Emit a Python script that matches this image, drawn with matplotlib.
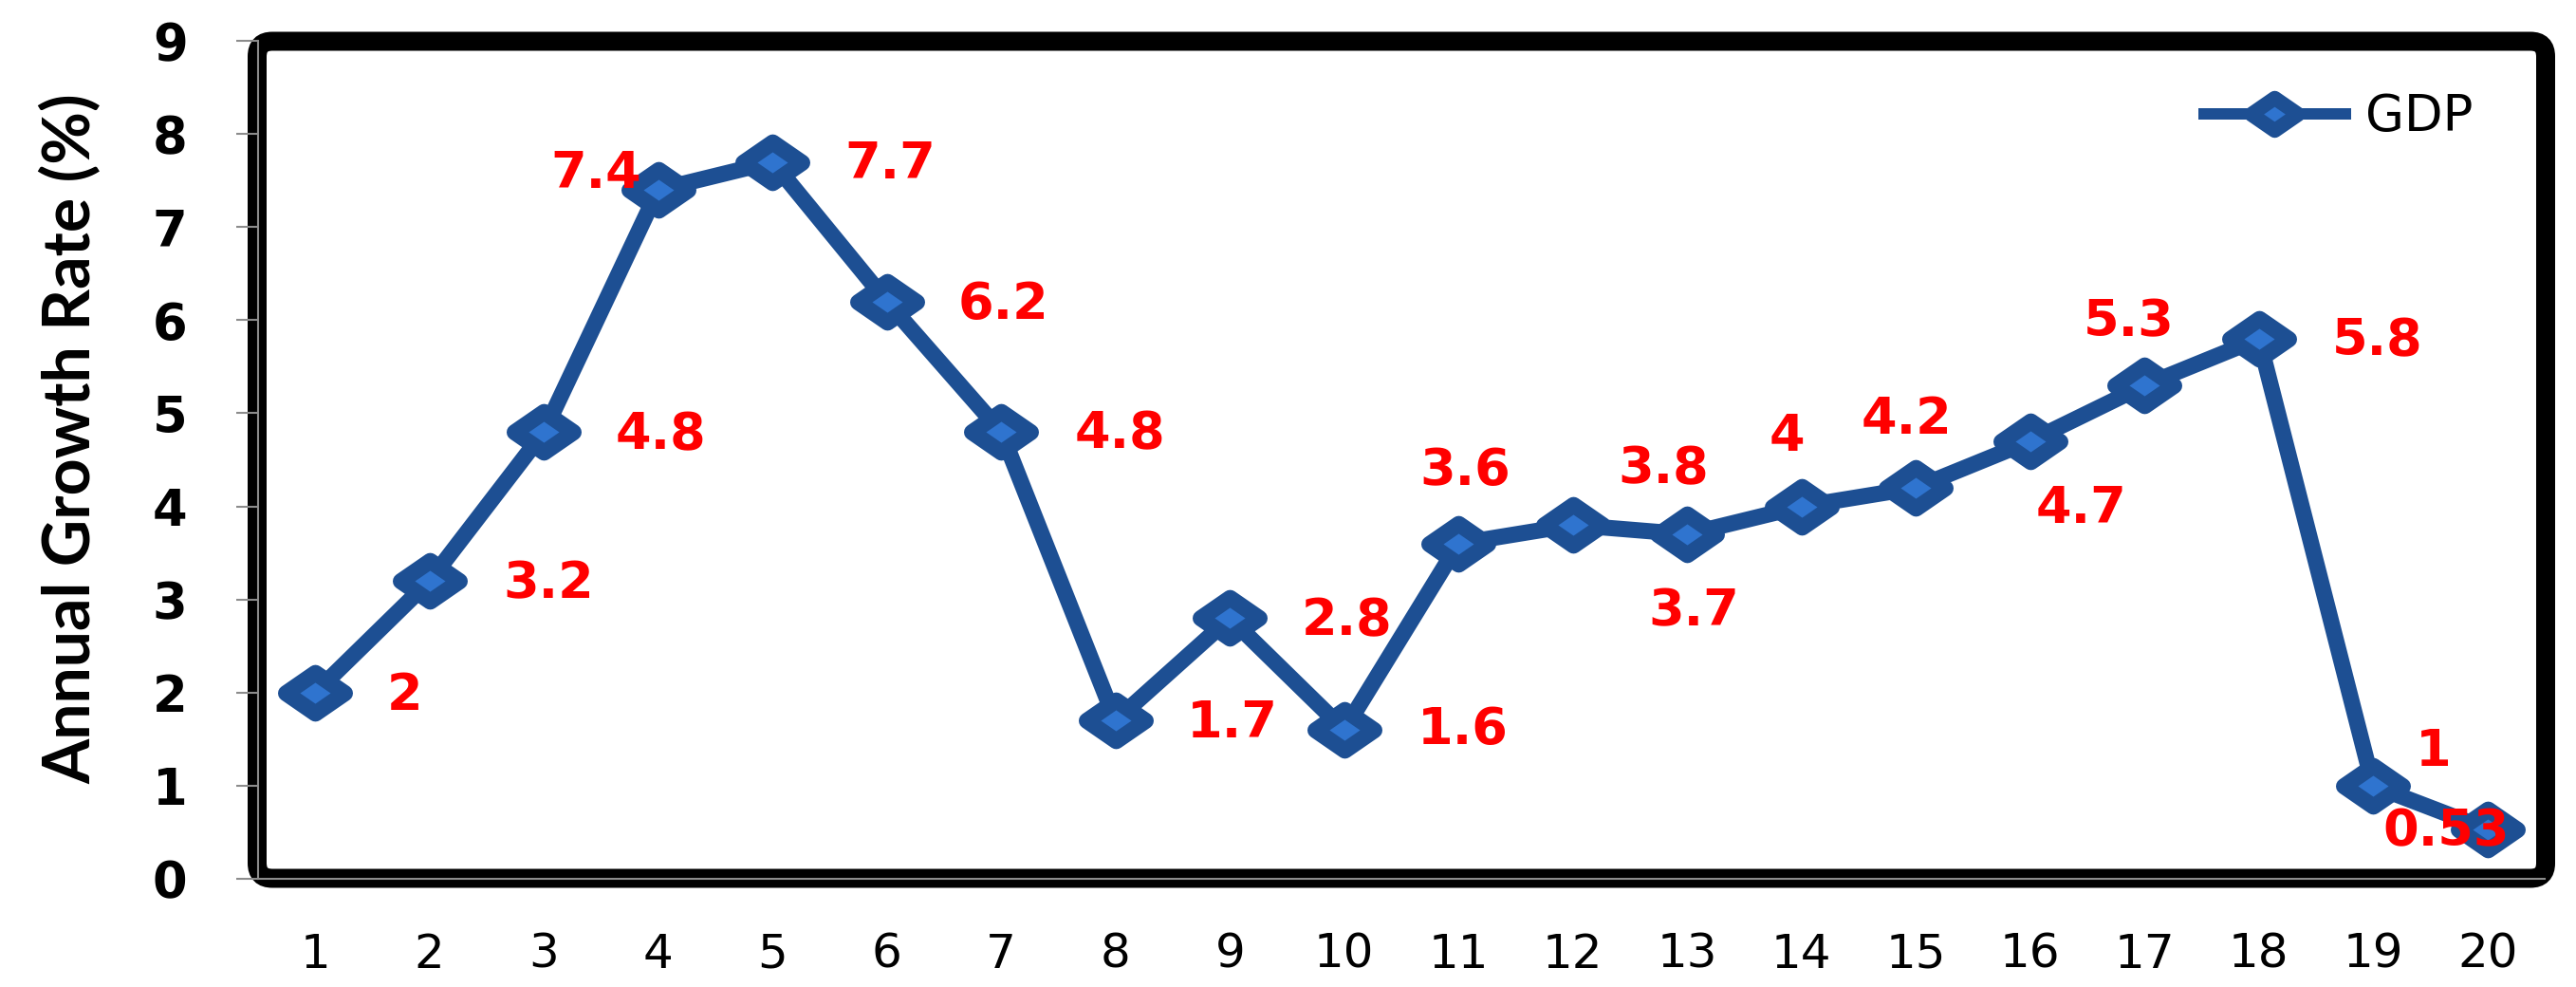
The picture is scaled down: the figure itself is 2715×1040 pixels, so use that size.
import matplotlib
matplotlib.use("Agg")
import matplotlib.pyplot as plt
from matplotlib.patches import FancyBboxPatch
from matplotlib.transforms import IdentityTransform
from matplotlib.lines import Line2D
from matplotlib.markers import MarkerStyle
from matplotlib.path import Path

# ---------------- data ----------------
periods = list(range(1, 21))
gdp_growth = [2, 3.2, 4.8, 7.4, 7.7, 6.2, 4.8, 1.7, 2.8, 1.6,
              3.6, 3.8, 3.7, 4, 4.2, 4.7, 5.3, 5.8, 1, 0.53]
value_labels = ["2", "3.2", "4.8", "7.4", "7.7", "6.2", "4.8", "1.7", "2.8", "1.6",
                "3.6", "3.8", "3.7", "4", "4.2", "4.7", "5.3", "5.8", "1", "0.53"]
y_ticks = list(range(0, 10))
series_name = "GDP"
y_title = "Annual Growth Rate (%)"

# label offsets (layout only): (dx in categories, dy in data units)
label_dx = [0.78, 1.04, 1.02, -0.54, 1.03, 1.02, 1.04, 1.02, 1.02, 1.04,
            0.06, 0.79, 0.06, -0.13, -0.08, 0.45, -0.14, 1.04, 0.53, -0.36]
label_dy = [-0.03, -0.03, -0.03, 0.17, -0.02, -0.03, -0.02, -0.03, -0.03, 0.0,
            0.78, 0.60, -0.83, 0.75, 0.73, -0.73, 0.68, -0.02, 0.37, -0.02]

W, H, DPI = 2715, 1040, 100
PX = 72 / DPI
LINE_C = "#1d4f93"
FACE_C = "#2f74cf"

fig = plt.figure(figsize=(W / DPI, H / DPI), dpi=DPI, facecolor="white")
ax_l, ax_r, ax_t, ax_b = 272, 2682, 43, 926
ax = fig.add_axes([ax_l / W, 1 - ax_b / H, (ax_r - ax_l) / W, (ax_b - ax_t) / H])
ax.set_zorder(1)
ax.patch.set_alpha(0)

# rounded black border around plot area
border = FancyBboxPatch((271, H - 925.5), 2683 - 271, 925.5 - 43.5,
                        boxstyle="round,pad=0,rounding_size=16",
                        transform=IdentityTransform(), facecolor="none",
                        edgecolor="black", linewidth=20 * PX, zorder=0.5)
fig.patches.append(border)

# horizontally wide diamond marker (as in the reference)
diamond = Path([(-1.45, 0), (0, 1), (1.45, 0), (0, -1), (-1.45, 0)],
               [Path.MOVETO, Path.LINETO, Path.LINETO, Path.LINETO, Path.CLOSEPOLY])
mk = MarkerStyle(diamond, joinstyle="round")
ms = 62 * PX
mew = 17 * PX

ax.plot(periods, gdp_growth, color=LINE_C, linewidth=17 * PX, marker=mk, markersize=ms,
        markerfacecolor=FACE_C, markeredgecolor=LINE_C, markeredgewidth=mew,
        solid_joinstyle="round", solid_capstyle="butt", zorder=3, clip_on=False,
        label=series_name)

for x, y, t, dx, dy in zip(periods, gdp_growth, value_labels, label_dx, label_dy):
    ax.text(x + dx, y + dy, t, color="#ff0000", fontsize=39, fontweight="bold",
            family="DejaVu Sans", ha="center", va="center", zorder=5)

ax.set_xlim(0.5, 20.5)
ax.set_ylim(0, 9)
ax.set_xticks(periods)
ax.set_xticklabels([str(p) for p in periods], fontsize=36, family="DejaVu Sans")
ax.set_yticks(y_ticks)
ax.set_yticklabels([str(v) for v in y_ticks], fontsize=38, fontweight="bold",
                   family="DejaVu Sans")
ax.tick_params(axis="x", length=0, pad=40)
ax.tick_params(axis="y", length=23 * PX, width=1.5, color="#8c8c8c", pad=37,
               direction="out")
for s in ["top", "right"]:
    ax.spines[s].set_visible(False)
for s in ["left", "bottom"]:
    ax.spines[s].set_color("#8c8c8c")
    ax.spines[s].set_linewidth(1.5)

fig.text(95 / W, 1 - 462 / H, y_title, rotation=90, rotation_mode="anchor",
         ha="center", va="baseline", fontsize=49, fontweight="bold", family="Lato")

handle = Line2D([], [], color=LINE_C, linewidth=12 * PX, marker=mk, markersize=ms * 0.8,
                markerfacecolor=FACE_C, markeredgecolor=LINE_C,
                markeredgewidth=mew * 0.9)
leg = ax.legend([handle], [series_name], loc="center left",
                bbox_to_anchor=(2323 / W, 1 - 123 / H), bbox_transform=fig.transFigure,
                frameon=False, borderpad=0, borderaxespad=0, handlelength=2.82,
                handletextpad=0.4, prop={"family": "DejaVu Sans", "size": 38})

fig.savefig("out.png", dpi=DPI, facecolor="white")
